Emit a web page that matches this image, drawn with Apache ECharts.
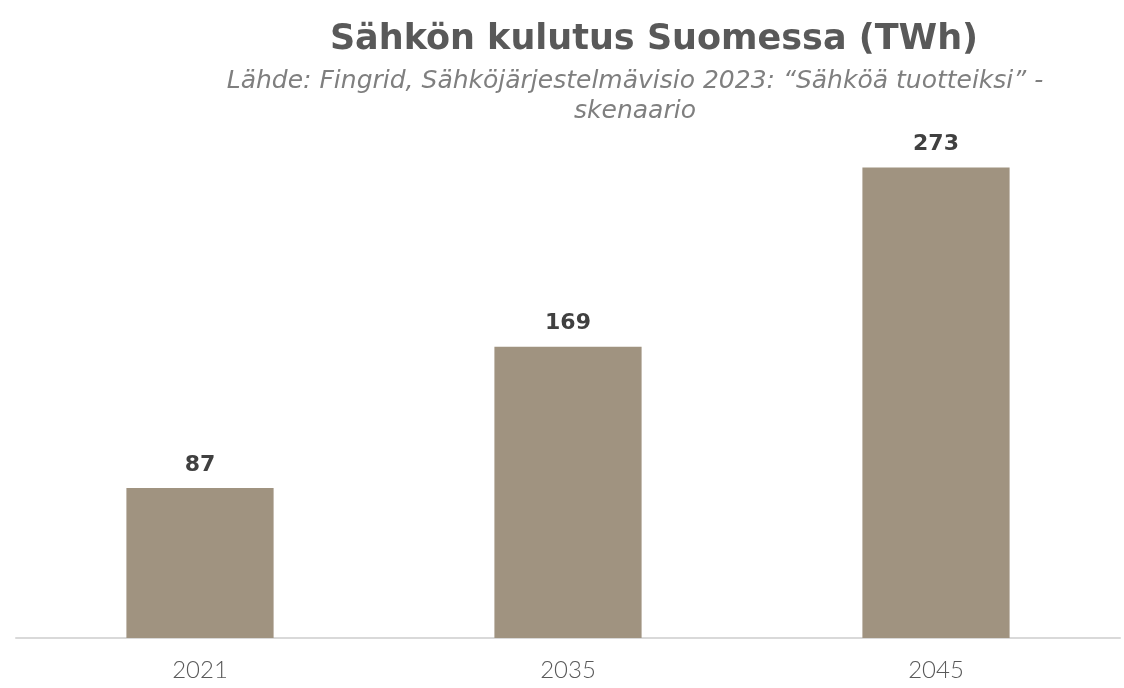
<!DOCTYPE html>
<html>
<head>
<meta charset="utf-8">
<script src="https://cdn.jsdelivr.net/npm/echarts@6/dist/echarts.min.js"></script>
<style>
  html, body { margin: 0; padding: 0; background: #fff; }
  #chart { width: 1124px; height: 688px; }
</style>
</head>
<body>
<div id="chart"></div>
<script>
// data
const years = ['2021', '2035', '2045'];
const consumption = [87, 169, 273];

const chart = echarts.init(document.getElementById('chart'), null, {renderer: 'canvas'});

const option = {
  animation: false,
  title: [
    {
      text: 'Sähkön kulutus Suomessa (TWh)',
      left: 649,
      top: 17,
      textAlign: 'center',
      textStyle: {
        fontFamily: 'DejaVu Sans',
        fontWeight: 'bold',
        fontSize: 35,
        color: '#595959',
      },
    },
    {
      text: 'Lähde: Fingrid, Sähköjärjestelmävisio 2023: “Sähköä tuotteiksi” -\nskenaario',
      left: 630,
      top: 61,
      textAlign: 'center',
      textStyle: {
        fontFamily: 'DejaVu Sans',
        fontStyle: 'italic',
        fontWeight: 'normal',
        fontSize: 25,
        lineHeight: 30,
        color: '#7f7f7f',
      },
    },
  ],
  grid: {
    left: 16,
    right: 4,
    top: 121,
    bottom: 50,
  },
  xAxis: {
    type: 'category',
    data: years,
    axisTick: {show: false},
    axisLine: {
      lineStyle: {color: '#d9d9d9', width: 2},
    },
    axisLabel: {
      margin: 20,
      fontFamily: 'Lato',
      fontWeight: 300,
      fontSize: 24,
      color: '#595959',
    },
  },
  yAxis: {
    type: 'value',
    min: 0,
    max: 300,
    show: false,
    splitLine: {show: false},
  },
  series: [
    {
      type: 'bar',
      data: consumption,
      barWidth: '40%',
      itemStyle: {color: '#a09380'},
      label: {
        show: true,
        position: 'top',
        distance: 12,
        fontFamily: 'DejaVu Sans',
        fontWeight: 'bold',
        fontSize: 22,
        color: '#404040',
      },
    },
  ],
};

chart.setOption(option);
</script>
</body>
</html>
